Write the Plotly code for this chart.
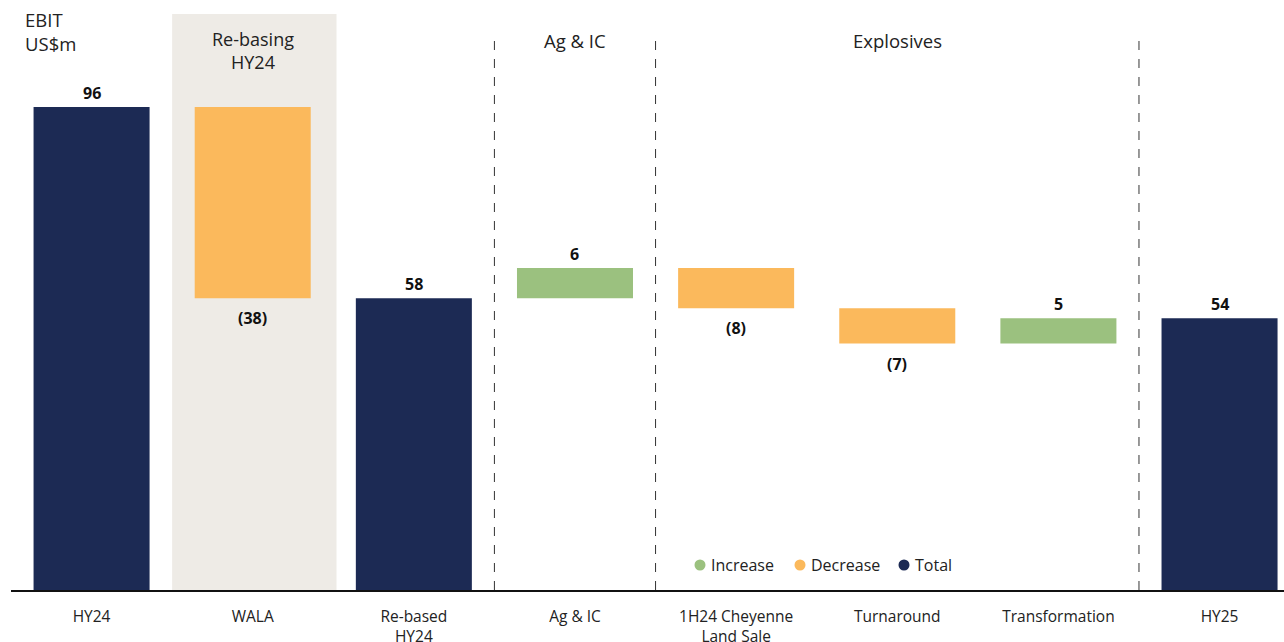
import plotly.graph_objects as go

categories = ["HY24", "WALA", "Re-based<br>HY24", "Ag & IC", "1H24 Cheyenne<br>Land Sale",
              "Turnaround", "Transformation", "HY25"]
measures = ["total", "relative", "total", "relative", "relative", "relative", "relative", "total"]
values = [96, -38, 58, 6, -8, -7, 5, 54]
labels = ["96", "(38)", "58", "6", "(8)", "(7)", "5", "54"]

sections = ["Re-basing<br>HY24", "Ag & IC", "Explosives"]
legend_names = ["Increase", "Decrease", "Total"]

NAVY = "#1C2A54"
ORANGE = "#FBB95C"
GREEN = "#9BC17F"
TXT = "#222222"
FONT = "Open Sans"

# compute bases
bases, heights, colors = [], [], []
running = 0
for m, v in zip(measures, values):
    if m == "total":
        bases.append(0)
        heights.append(v)
        colors.append(NAVY)
        running = v
    else:
        if v >= 0:
            bases.append(running)
            heights.append(v)
            colors.append(GREEN)
        else:
            bases.append(running + v)
            heights.append(-v)
            colors.append(ORANGE)
        running += v

x = list(range(len(categories)))

W, H = 1284, 642
ML, MR, MT, MB = 11, 0, 10, 52
PW, PH = W - ML - MR, H - MT - MB


def px_x(p):
    return (p - ML) / PW


def px_y(p):
    return (H - MB - p) / PH


fig = go.Figure()
fig.add_trace(go.Bar(x=x, y=heights, base=bases, marker=dict(color=colors, line=dict(width=0)),
                     width=0.72, showlegend=False, hoverinfo="skip"))

annotations = []
for i, (m, v, b, h, lab) in enumerate(zip(measures, values, bases, heights, labels)):
    if m == "relative" and v < 0:
        annotations.append(dict(x=i, y=b, text=f"<b>{lab}</b>", showarrow=False, yanchor="top",
                                yshift=-7, font=dict(size=16, color="#111", family=FONT)))
    else:
        annotations.append(dict(x=i, y=b + h, text=f"<b>{lab}</b>", showarrow=False, yanchor="bottom",
                                yshift=1, font=dict(size=16, color="#111", family=FONT)))

# section headers
annotations.append(dict(x=1, y=px_y(25), yref="paper", text=sections[0], showarrow=False, yanchor="top",
                        font=dict(size=18, color=TXT, family=FONT)))
annotations.append(dict(x=3.0, y=px_y(26), yref="paper", text=sections[1], showarrow=False, yanchor="top",
                        font=dict(size=18.5, color=TXT, family=FONT)))
annotations.append(dict(x=5.0, y=px_y(26), yref="paper", text=sections[2], showarrow=False, yanchor="top",
                        font=dict(size=18.5, color=TXT, family=FONT)))
annotations.append(dict(x=px_x(23), xref="paper", y=px_y(5), yref="paper", text="EBIT<br>US$m",
                        showarrow=False, xanchor="left", yanchor="top", align="left",
                        font=dict(size=18.5, color=TXT, family=FONT)))

shapes = [dict(type="rect", xref="x", yref="paper", x0=0.5, x1=1.52, y0=0, y1=px_y(14),
               fillcolor="#EEEBE6", line=dict(width=0), layer="below")]
for xv in [2.5, 3.5, 6.5]:
    shapes.append(dict(type="line", xref="x", yref="paper", x0=xv, x1=xv, y0=0, y1=px_y(33),
                       line=dict(color="#333", width=1, dash="dash"), layer="below"))

# manual legend
leg_cols = [GREEN, ORANGE, NAVY]
leg_x = [700, 800, 904]
leg_y = 565
for name, c, lx in zip(legend_names, leg_cols, leg_x):
    shapes.append(dict(type="circle", xref="paper", yref="paper", xsizemode="pixel", ysizemode="pixel",
                       xanchor=px_x(lx), yanchor=px_y(leg_y), x0=-5.5, x1=5.5, y0=-5.5, y1=5.5,
                       fillcolor=c, line=dict(width=0)))
    annotations.append(dict(x=px_x(lx + 9), xref="paper", y=px_y(leg_y), yref="paper", text=name,
                            showarrow=False, xanchor="left", yanchor="middle",
                            font=dict(size=16, color=TXT, family=FONT)))

fig.update_layout(
    width=W, height=H,
    margin=dict(l=ML, r=MR, t=MT, b=MB, autoexpand=False),
    paper_bgcolor="white", plot_bgcolor="white",
    barmode="overlay",
    showlegend=False,
    font=dict(family=FONT, color=TXT, size=16),
    xaxis=dict(range=[-0.5, 7.4], tickmode="array", tickvals=x, ticktext=categories,
               showgrid=False, zeroline=False, showline=True, linecolor="#111", linewidth=2,
               ticks="", ticklabelstandoff=11, automargin=False,
               tickfont=dict(size=15.5, color=TXT, family=FONT)),
    yaxis=dict(range=[0, 115.3], visible=False, showgrid=False, zeroline=False, automargin=False),
    annotations=annotations,
    shapes=shapes,
)

fig.write_html("out.html", config={"displayModeBar": False},
               post_script="document.body.style.margin='0';document.body.style.overflow='hidden';")
